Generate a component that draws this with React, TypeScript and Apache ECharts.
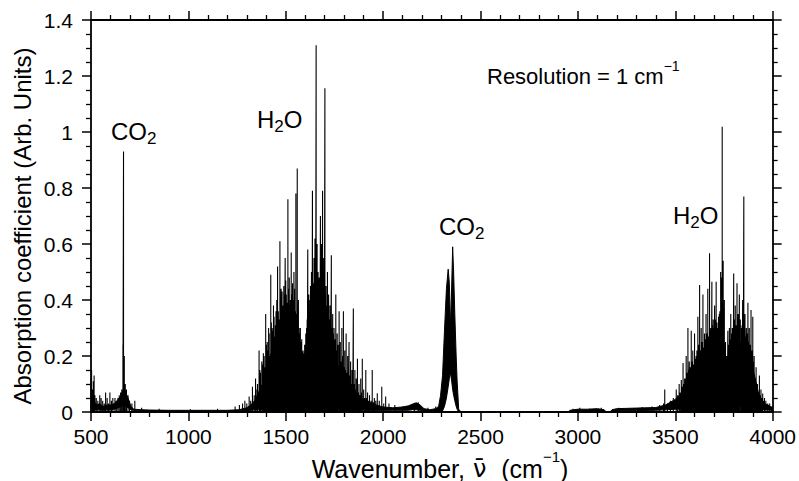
import React, { useEffect, useRef } from "react";
import * as echarts from "echarts";

// Envelope of the dense absorption (wavenumber, lower edge, upper edge)
const envWn = [500, 510, 520, 530, 545, 560, 580, 600, 620, 640, 655, 665, 675, 690, 705, 720, 760, 800, 900, 1000, 1100, 1200, 1260, 1300, 1320, 1340, 1360, 1380, 1400, 1420, 1440, 1460, 1480, 1500, 1520, 1540, 1560, 1580, 1595, 1610, 1630, 1650, 1670, 1690, 1710, 1730, 1750, 1770, 1800, 1830, 1860, 1900, 1950, 2000, 2050, 2100, 2130, 2150, 2170, 2190, 2210, 2240, 2270, 2285, 2295, 2305, 2315, 2325, 2334, 2340, 2346, 2352, 2357, 2362, 2368, 2375, 2380, 2388, 2400, 2950, 2960, 3000, 3050, 3100, 3135, 3145, 3165, 3175, 3200, 3300, 3400, 3450, 3500, 3550, 3600, 3650, 3700, 3730, 3745, 3760, 3790, 3820, 3850, 3880, 3900, 3930, 3960, 4000];
const envLow = [0.01, 0.008, 0.01, 0.008, 0.008, 0.006, 0.008, 0.008, 0.01, 0.015, 0.02, 0.025, 0.025, 0.015, 0.008, 0.005, 0.004, 0.004, 0.003, 0.003, 0.003, 0.003, 0.004, 0.005, 0.006, 0.008, 0.01, 0.01, 0.012, 0.012, 0.015, 0.015, 0.015, 0.015, 0.02, 0.02, 0.02, 0.03, 0.05, 0.02, 0.02, 0.02, 0.02, 0.018, 0.015, 0.015, 0.012, 0.012, 0.01, 0.01, 0.008, 0.008, 0.006, 0.006, 0.006, 0.006, 0.006, 0.008, 0.008, 0.006, 0.004, 0.003, 0.004, 0.004, 0.004, 0.004, 0.02, 0.05, 0.09, 0.12, 0.14, 0.11, 0.08, 0.06, 0.04, 0.02, 0.01, 0, 0, 0, 0.003, 0.004, 0.004, 0.004, 0.003, 0, 0, 0.003, 0.004, 0.005, 0.006, 0.008, 0.01, 0.012, 0.015, 0.018, 0.02, 0.02, 0.03, 0.02, 0.02, 0.02, 0.02, 0.015, 0.012, 0.01, 0.008, 0.006];
const envHigh = [0.04, 0.03, 0.035, 0.025, 0.03, 0.02, 0.025, 0.025, 0.03, 0.045, 0.06, 0.075, 0.075, 0.05, 0.02, 0.01, 0.008, 0.007, 0.006, 0.006, 0.006, 0.006, 0.008, 0.015, 0.025, 0.04, 0.07, 0.1, 0.15, 0.2, 0.24, 0.28, 0.31, 0.33, 0.34, 0.31, 0.26, 0.22, 0.2, 0.25, 0.3, 0.36, 0.37, 0.33, 0.28, 0.24, 0.2, 0.16, 0.12, 0.09, 0.07, 0.045, 0.028, 0.018, 0.015, 0.018, 0.022, 0.028, 0.033, 0.025, 0.012, 0.008, 0.012, 0.02, 0.06, 0.13, 0.29, 0.44, 0.51, 0.46, 0.3, 0.45, 0.59, 0.5, 0.35, 0.2, 0.11, 0.01, 0, 0, 0.006, 0.01, 0.01, 0.012, 0.008, 0, 0, 0.008, 0.012, 0.014, 0.016, 0.025, 0.045, 0.08, 0.12, 0.18, 0.22, 0.3, 0.26, 0.18, 0.22, 0.26, 0.24, 0.22, 0.15, 0.06, 0.03, 0.015];

// Individual absorption lines [wavenumber, peak]
const lowRegionLines = [[500, 0.12], [503, 0.15], [507, 0.08], [512, 0.11], [516, 0.13], [520, 0.06], [527, 0.05], [535, 0.04], [545, 0.06], [552, 0.05], [560, 0.04], [568, 0.03], [575, 0.07], [583, 0.05], [590, 0.03], [597, 0.07], [605, 0.04], [612, 0.05], [623, 0.05], [630, 0.04], [638, 0.05], [645, 0.06], [652, 0.07], [658, 0.08], [664, 0.24], [667, 0.93], [671, 0.2], [676, 0.1], [682, 0.08], [690, 0.06], [698, 0.04], [710, 0.03], [725, 0.04], [760, 0.015], [850, 0.012], [1010, 0.01], [1150, 0.012], [1240, 0.02], [1262, 0.025], [1278, 0.03], [1290, 0.04]];
const waterBendLines = [[1300, 0.03], [1312, 0.055], [1320, 0.04], [1329, 0.09], [1338, 0.06], [1345, 0.12], [1352, 0.08], [1363, 0.22], [1370, 0.14], [1377, 0.18], [1385, 0.21], [1392, 0.16], [1397, 0.35], [1405, 0.25], [1412, 0.3], [1418, 0.2], [1423, 0.49], [1430, 0.3], [1437, 0.38], [1443, 0.27], [1450, 0.36], [1458, 0.52], [1466, 0.33], [1470, 0.61], [1476, 0.44], [1485, 0.38], [1490, 0.45], [1497, 0.55], [1503, 0.42], [1511, 0.76], [1518, 0.48], [1524, 0.4], [1528, 0.57], [1535, 0.46], [1542, 0.5], [1548, 0.36], [1552, 0.78], [1559, 0.87], [1565, 0.4], [1572, 0.3], [1578, 0.25], [1585, 0.2], [1592, 0.12], [1600, 0.15], [1607, 0.3], [1613, 0.58], [1618, 0.42], [1622, 0.35], [1627, 0.45], [1632, 0.5], [1637, 0.79], [1645, 0.55], [1650, 0.62], [1656, 1.31], [1661, 0.6], [1666, 0.5], [1672, 0.48], [1678, 0.7], [1684, 0.6], [1689, 0.79], [1695, 0.55], [1701, 1.156], [1707, 0.45], [1714, 0.5], [1720, 0.42], [1727, 0.38], [1734, 0.56], [1741, 0.35], [1748, 0.3], [1757, 0.42], [1764, 0.28], [1774, 0.36], [1780, 0.25], [1788, 0.3], [1796, 0.36], [1803, 0.22], [1810, 0.28], [1818, 0.2], [1825, 0.25], [1833, 0.18], [1840, 0.15], [1847, 0.37], [1855, 0.15], [1862, 0.12], [1868, 0.19], [1876, 0.1], [1885, 0.12], [1893, 0.19], [1900, 0.08], [1911, 0.15], [1920, 0.07], [1930, 0.06], [1944, 0.15], [1955, 0.05], [1962, 0.04], [1970, 0.067], [1980, 0.04], [1993, 0.09], [2003, 0.03], [2013, 0.055], [2030, 0.03], [2060, 0.025], [2100, 0.02], [2160, 0.03], [2180, 0.035], [2230, 0.015], [2270, 0.02]];
const waterBendWeakLines = [[1355, 0.1], [1367, 0.15], [1381, 0.17], [1389, 0.2], [1401, 0.24], [1408, 0.22], [1415, 0.28], [1426, 0.32], [1433, 0.29], [1440, 0.34], [1447, 0.31], [1454, 0.4], [1462, 0.36], [1473, 0.41], [1481, 0.43], [1488, 0.36], [1494, 0.42], [1500, 0.47], [1507, 0.39], [1514, 0.44], [1521, 0.38], [1531, 0.42], [1538, 0.4], [1545, 0.44], [1555, 0.35], [1562, 0.33], [1569, 0.28], [1575, 0.3], [1582, 0.26], [1589, 0.22], [1597, 0.24], [1603, 0.28], [1610, 0.33], [1624, 0.4], [1630, 0.38], [1635, 0.44], [1641, 0.46], [1648, 0.5], [1653, 0.48], [1659, 0.52], [1664, 0.45], [1669, 0.47], [1675, 0.44], [1681, 0.5], [1687, 0.45], [1692, 0.42], [1698, 0.48], [1704, 0.4], [1710, 0.38], [1717, 0.35], [1723, 0.33], [1731, 0.31], [1738, 0.3], [1744, 0.28], [1752, 0.26], [1760, 0.22], [1768, 0.24], [1777, 0.2], [1784, 0.18], [1792, 0.2], [1799, 0.16], [1806, 0.15], [1814, 0.14], [1822, 0.12], [1829, 0.13], [1836, 0.1], [1844, 0.09], [1851, 0.1], [1858, 0.08], [1872, 0.07], [1880, 0.06], [1889, 0.07], [1905, 0.05], [1915, 0.05], [1925, 0.04], [1938, 0.04], [1950, 0.035]];
const quietLines = [[2975, 0.012], [3010, 0.015], [3060, 0.012], [3120, 0.015], [3210, 0.015], [3260, 0.012], [3330, 0.018], [3380, 0.02], [3420, 0.025]];
const waterStretchLines = [[3440, 0.03], [3446, 0.08], [3460, 0.03], [3475, 0.04], [3490, 0.05], [3505, 0.08], [3512, 0.06], [3520, 0.1], [3531, 0.114], [3540, 0.175], [3548, 0.12], [3556, 0.2], [3565, 0.3], [3572, 0.18], [3582, 0.29], [3590, 0.22], [3599, 0.28], [3607, 0.2], [3616, 0.34], [3625, 0.454], [3633, 0.3], [3642, 0.42], [3650, 0.28], [3658, 0.35], [3667, 0.44], [3676, 0.567], [3682, 0.3], [3688, 0.465], [3695, 0.33], [3702, 0.38], [3710, 0.465], [3718, 0.3], [3726, 0.35], [3733, 0.5], [3737, 0.48], [3741, 1.019], [3746, 0.54], [3752, 0.4], [3758, 0.25], [3764, 0.2], [3770, 0.29], [3778, 0.3], [3785, 0.35], [3793, 0.3], [3800, 0.495], [3808, 0.38], [3817, 0.46], [3823, 0.35], [3829, 0.42], [3840, 0.3], [3846, 0.4], [3852, 0.77], [3858, 0.35], [3865, 0.3], [3873, 0.39], [3880, 0.3], [3889, 0.364], [3898, 0.34], [3905, 0.2], [3915, 0.16], [3922, 0.1], [3932, 0.13], [3940, 0.08], [3949, 0.066], [3958, 0.05], [3965, 0.04], [3975, 0.03], [3985, 0.03], [3995, 0.02]];
const waterStretchWeakLines = [[3525, 0.07], [3535, 0.09], [3544, 0.1], [3552, 0.12], [3560, 0.14], [3569, 0.15], [3577, 0.16], [3586, 0.18], [3594, 0.17], [3603, 0.19], [3611, 0.22], [3620, 0.24], [3629, 0.22], [3637, 0.25], [3646, 0.23], [3654, 0.26], [3663, 0.28], [3671, 0.27], [3679, 0.29], [3685, 0.3], [3692, 0.31], [3699, 0.3], [3706, 0.33], [3714, 0.32], [3722, 0.34], [3729, 0.36], [3749, 0.3], [3755, 0.22], [3761, 0.16], [3767, 0.2], [3774, 0.24], [3781, 0.26], [3789, 0.28], [3797, 0.3], [3804, 0.33], [3812, 0.31], [3820, 0.34], [3826, 0.32], [3834, 0.33], [3843, 0.31], [3849, 0.3], [3855, 0.29], [3862, 0.27], [3869, 0.28], [3877, 0.25], [3885, 0.24], [3893, 0.22], [3901, 0.18], [3910, 0.12], [3918, 0.1], [3927, 0.07], [3936, 0.06], [3945, 0.05]];

const xTicks = { min: 500, max: 4000, interval: 500 };
const yTicks = { min: 0, max: 1.4, interval: 0.2 };

const FONT = "Liberation Sans, Arial, Helvetica, sans-serif";

export default function App() {
  const ref = useRef<HTMLDivElement>(null);
  useEffect(() => {
    document.body.style.margin = "0";
    const chart = echarts.init(ref.current!, undefined, { renderer: "svg", width: 799, height: 481 });

    const lowData = envWn.map((w, i) => [w, envLow[i]]);
    const highData = envWn.map((w, i) => [w, envHigh[i]]);
    const allLines = [
      ...lowRegionLines,
      ...waterBendLines,
      ...waterBendWeakLines,
      ...quietLines,
      ...waterStretchLines,
      ...waterStretchWeakLines,
    ].sort((a, b) => a[0] - b[0]);
    const spikeData: number[][] = [];
    allLines.forEach(([w, a]) => {
      spikeData.push([w, 0], [w, a], [w, 0]);
    });

    const axisCommon = {
      z: 10,
      axisLine: { show: true, onZero: false, lineStyle: { color: "#000", width: 1.8 } },
      axisTick: { show: true, inside: false, length: 9, lineStyle: { color: "#000", width: 1.5 } },
      splitLine: { show: false },
    };
    const sub = (fs: number, sfs: number) => ({
      n: { fontSize: fs, fontFamily: FONT, fill: "#000", lineHeight: fs + 8, verticalAlign: "middle" },
      s: { fontSize: sfs, fontFamily: FONT, fill: "#000", lineHeight: sfs, verticalAlign: "bottom" },
    });

    chart.setOption({
      animation: false,
      backgroundColor: "#fff",
      grid: { left: 91, top: 20, width: 684, height: 392, containLabel: false },
      xAxis: [
        {
          type: "value",
          position: "bottom",
          ...xTicks,
          ...axisCommon,
          minorTick: { show: true, splitNumber: 5, length: 5, lineStyle: { color: "#000", width: 1.3 } },
          axisLabel: { color: "#000", fontSize: 21, fontFamily: FONT, margin: 14, formatter: (v: number) => String(v) },
        },
        {
          type: "value",
          position: "top",
          ...xTicks,
          ...axisCommon,
          minorTick: { show: true, splitNumber: 5, length: 5, lineStyle: { color: "#000", width: 1.3 } },
          axisLabel: { show: false },
        },
      ],
      yAxis: [
        {
          type: "value",
          position: "left",
          ...yTicks,
          ...axisCommon,
          minorTick: { show: true, splitNumber: 4, length: 5, lineStyle: { color: "#000", width: 1.3 } },
          axisLabel: { color: "#000", fontSize: 21, fontFamily: FONT, margin: 18 },
        },
        {
          type: "value",
          position: "right",
          ...yTicks,
          ...axisCommon,
          minorTick: { show: true, splitNumber: 4, length: 5, lineStyle: { color: "#000", width: 1.3 } },
          axisLabel: { show: false },
        },
      ],
      series: [
        {
          type: "line",
          name: "upper",
          data: highData,
          showSymbol: false,
          symbol: "none",
          lineStyle: { color: "#000", width: 1 },
          areaStyle: { color: "#000", opacity: 1, origin: "start" },
          z: 2,
        },
        {
          type: "line",
          name: "lower",
          data: lowData,
          showSymbol: false,
          symbol: "none",
          lineStyle: { color: "#000", width: 1 },
          areaStyle: { color: "#fff", opacity: 1, origin: "start" },
          z: 3,
        },
        {
          type: "line",
          name: "lines",
          data: spikeData,
          showSymbol: false,
          symbol: "none",
          lineStyle: { color: "#000", width: 1.1 },
          z: 4,
        },
      ],
      graphic: [
        {
          type: "text",
          x: 22,
          y: 226,
          rotation: Math.PI / 2,
          style: {
            text: "Absorption coefficient (Arb. Units)",
            fontSize: 24,
            fontFamily: FONT,
            fill: "#000",
            align: "center",
            verticalAlign: "middle",
            textAlign: "center",
            textVerticalAlign: "middle",
          },
        },
        {
          type: "text",
          x: 440,
          y: 465,
          style: {
            text: "{a|Wavenumber, }{v|ν\u0304}{a|\u00a0 (cm}{s|−1}{a|)}",
            align: "center",
            verticalAlign: "middle",
            textAlign: "center",
            textVerticalAlign: "middle",
            rich: {
              a: { fontSize: 25, fontFamily: FONT, fill: "#000", lineHeight: 32, verticalAlign: "bottom" },
              v: { fontSize: 24, fontFamily: "DejaVu Sans", fill: "#000", lineHeight: 32, verticalAlign: "bottom", padding: [0, 1, 0, 1] },
              s: { fontSize: 15, fontFamily: FONT, fill: "#000", lineHeight: 17, verticalAlign: "top" },
            },
          },
        },
        { type: "text", left: 111, top: 119, style: { text: "{n|CO}{s|2}", rich: sub(24, 17) } },
        { type: "text", left: 257, top: 107, style: { text: "{n|H}{s|2}{n|O}", rich: sub(24, 17) } },
        { type: "text", left: 439, top: 214, style: { text: "{n|CO}{s|2}", rich: sub(24, 17) } },
        { type: "text", left: 673, top: 203, style: { text: "{n|H}{s|2}{n|O}", rich: sub(24, 17) } },
        {
          type: "text",
          left: 487,
          top: 59,
          style: {
            text: "{n|Resolution = 1 cm}{s|−1}",
            rich: {
              n: { fontSize: 22, fontFamily: FONT, fill: "#000", lineHeight: 28, verticalAlign: "bottom" },
              s: { fontSize: 14, fontFamily: FONT, fill: "#000", lineHeight: 14, verticalAlign: "top" },
            },
          },
        },
      ],
    });
    return () => chart.dispose();
  }, []);
  return <div ref={ref} style={{ position: "fixed", left: 0, top: 0, width: 799, height: 481 }} />;
}
